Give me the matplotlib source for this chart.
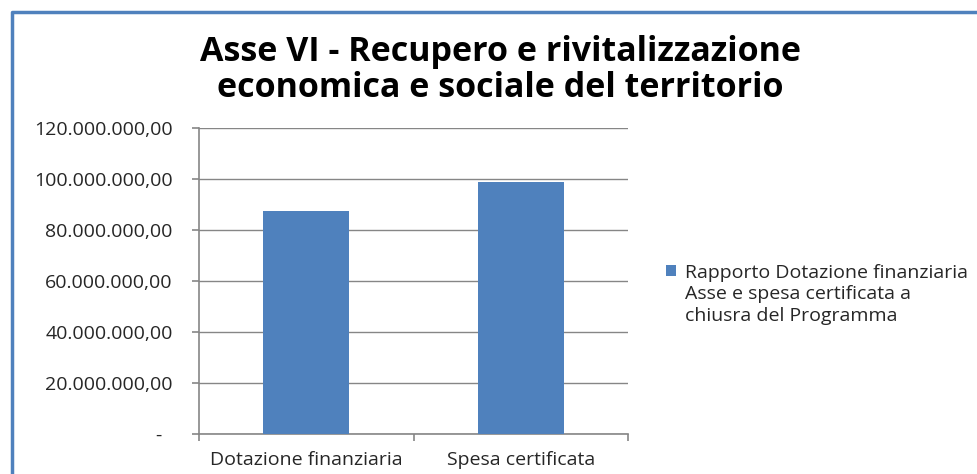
import matplotlib
matplotlib.use("Agg")
import matplotlib.pyplot as plt
from matplotlib.lines import Line2D
from matplotlib.patches import Rectangle
from matplotlib.ticker import FuncFormatter, MultipleLocator

# DATA
CATEGORIES = ['Dotazione finanziaria', 'Spesa certificata']
VALUES = [87500000, 98800000]
SERIES_LABEL = 'Rapporto Dotazione finanziaria\nAsse e spesa certificata a\nchiusra del Programma'
TITLE = 'Asse VI - Recupero e rivitalizzazione\neconomica e sociale del territorio'

BAR_COLOR = '#4F81BD'
GRID_COLOR = '#868686'
TEXT_COLOR = '#262626'

plt.rcParams['font.family'] = ['Open Sans', 'DejaVu Sans']


def italian_format(value, pos):
    """Formats numbers like 120.000.000,00; zero shown as '-'."""
    if abs(value) < 1e-6:
        return '-  '
    s = f"{value:,.2f}"
    return s.replace(',', 'X').replace('.', ',').replace('X', '.')


fig = plt.figure(figsize=(9.77, 4.74), dpi=100)
ax = fig.add_axes([199 / 977, 40 / 474, 429 / 977, 306 / 474])

x = range(len(CATEGORIES))
bars = ax.bar(x, VALUES, width=0.4, color=BAR_COLOR, zorder=3)

ax.set_xlim(-0.5, len(CATEGORIES) - 0.5)
ax.set_ylim(0, 120000000)
ax.yaxis.set_major_locator(MultipleLocator(20000000))
ax.yaxis.set_major_formatter(FuncFormatter(italian_format))
ax.grid(axis='y', color=GRID_COLOR, linewidth=1.0, zorder=0)

ax.set_xticks([-0.5, 0.5, 1.5])
ax.set_xticklabels([])
ax.set_xticks(list(x), minor=True)
ax.set_xticklabels(CATEGORIES, minor=True)
ax.tick_params(axis='x', which='minor', length=0, pad=12,
               labelsize=14, labelcolor=TEXT_COLOR)
ax.tick_params(axis='x', which='major', length=5, color=GRID_COLOR, width=1.2)
ax.tick_params(axis='y', length=5, color=GRID_COLOR, width=1.2, pad=14,
               labelsize=14, labelcolor=TEXT_COLOR)

for side in ['top', 'right']:
    ax.spines[side].set_visible(False)
for side in ['left', 'bottom']:
    ax.spines[side].set_color(GRID_COLOR)
    ax.spines[side].set_linewidth(1.2)

fig.text(500 / 977, 1 - 70 / 474, TITLE, ha='center', va='center',
         fontsize=24.5, fontweight='bold', color='black', linespacing=1.08)

# legend: square next to the first line only, the other lines follow below
lines = SERIES_LABEL.split('\n')
blank = Rectangle((0, 0), 1, 1, facecolor='none', edgecolor='none')
handles = [bars[0]] + [blank] * (len(lines) - 1)
ax.legend(handles, lines, loc='upper left',
          bbox_to_anchor=(648 / 977, 1 - 246 / 474),
          bbox_transform=fig.transFigure, frameon=False, fontsize=14,
          handlelength=0.55, handleheight=0.55, handletextpad=0.45,
          labelspacing=0.2, labelcolor=TEXT_COLOR)

# blue frame on top and left edges
fig.add_artist(Line2D([12 / 977, 12 / 977, 1.0], [0.0, 1 - 12 / 474, 1 - 12 / 474],
                      transform=fig.transFigure, color=BAR_COLOR, linewidth=2.5))

fig.savefig('out.png', dpi=100)
